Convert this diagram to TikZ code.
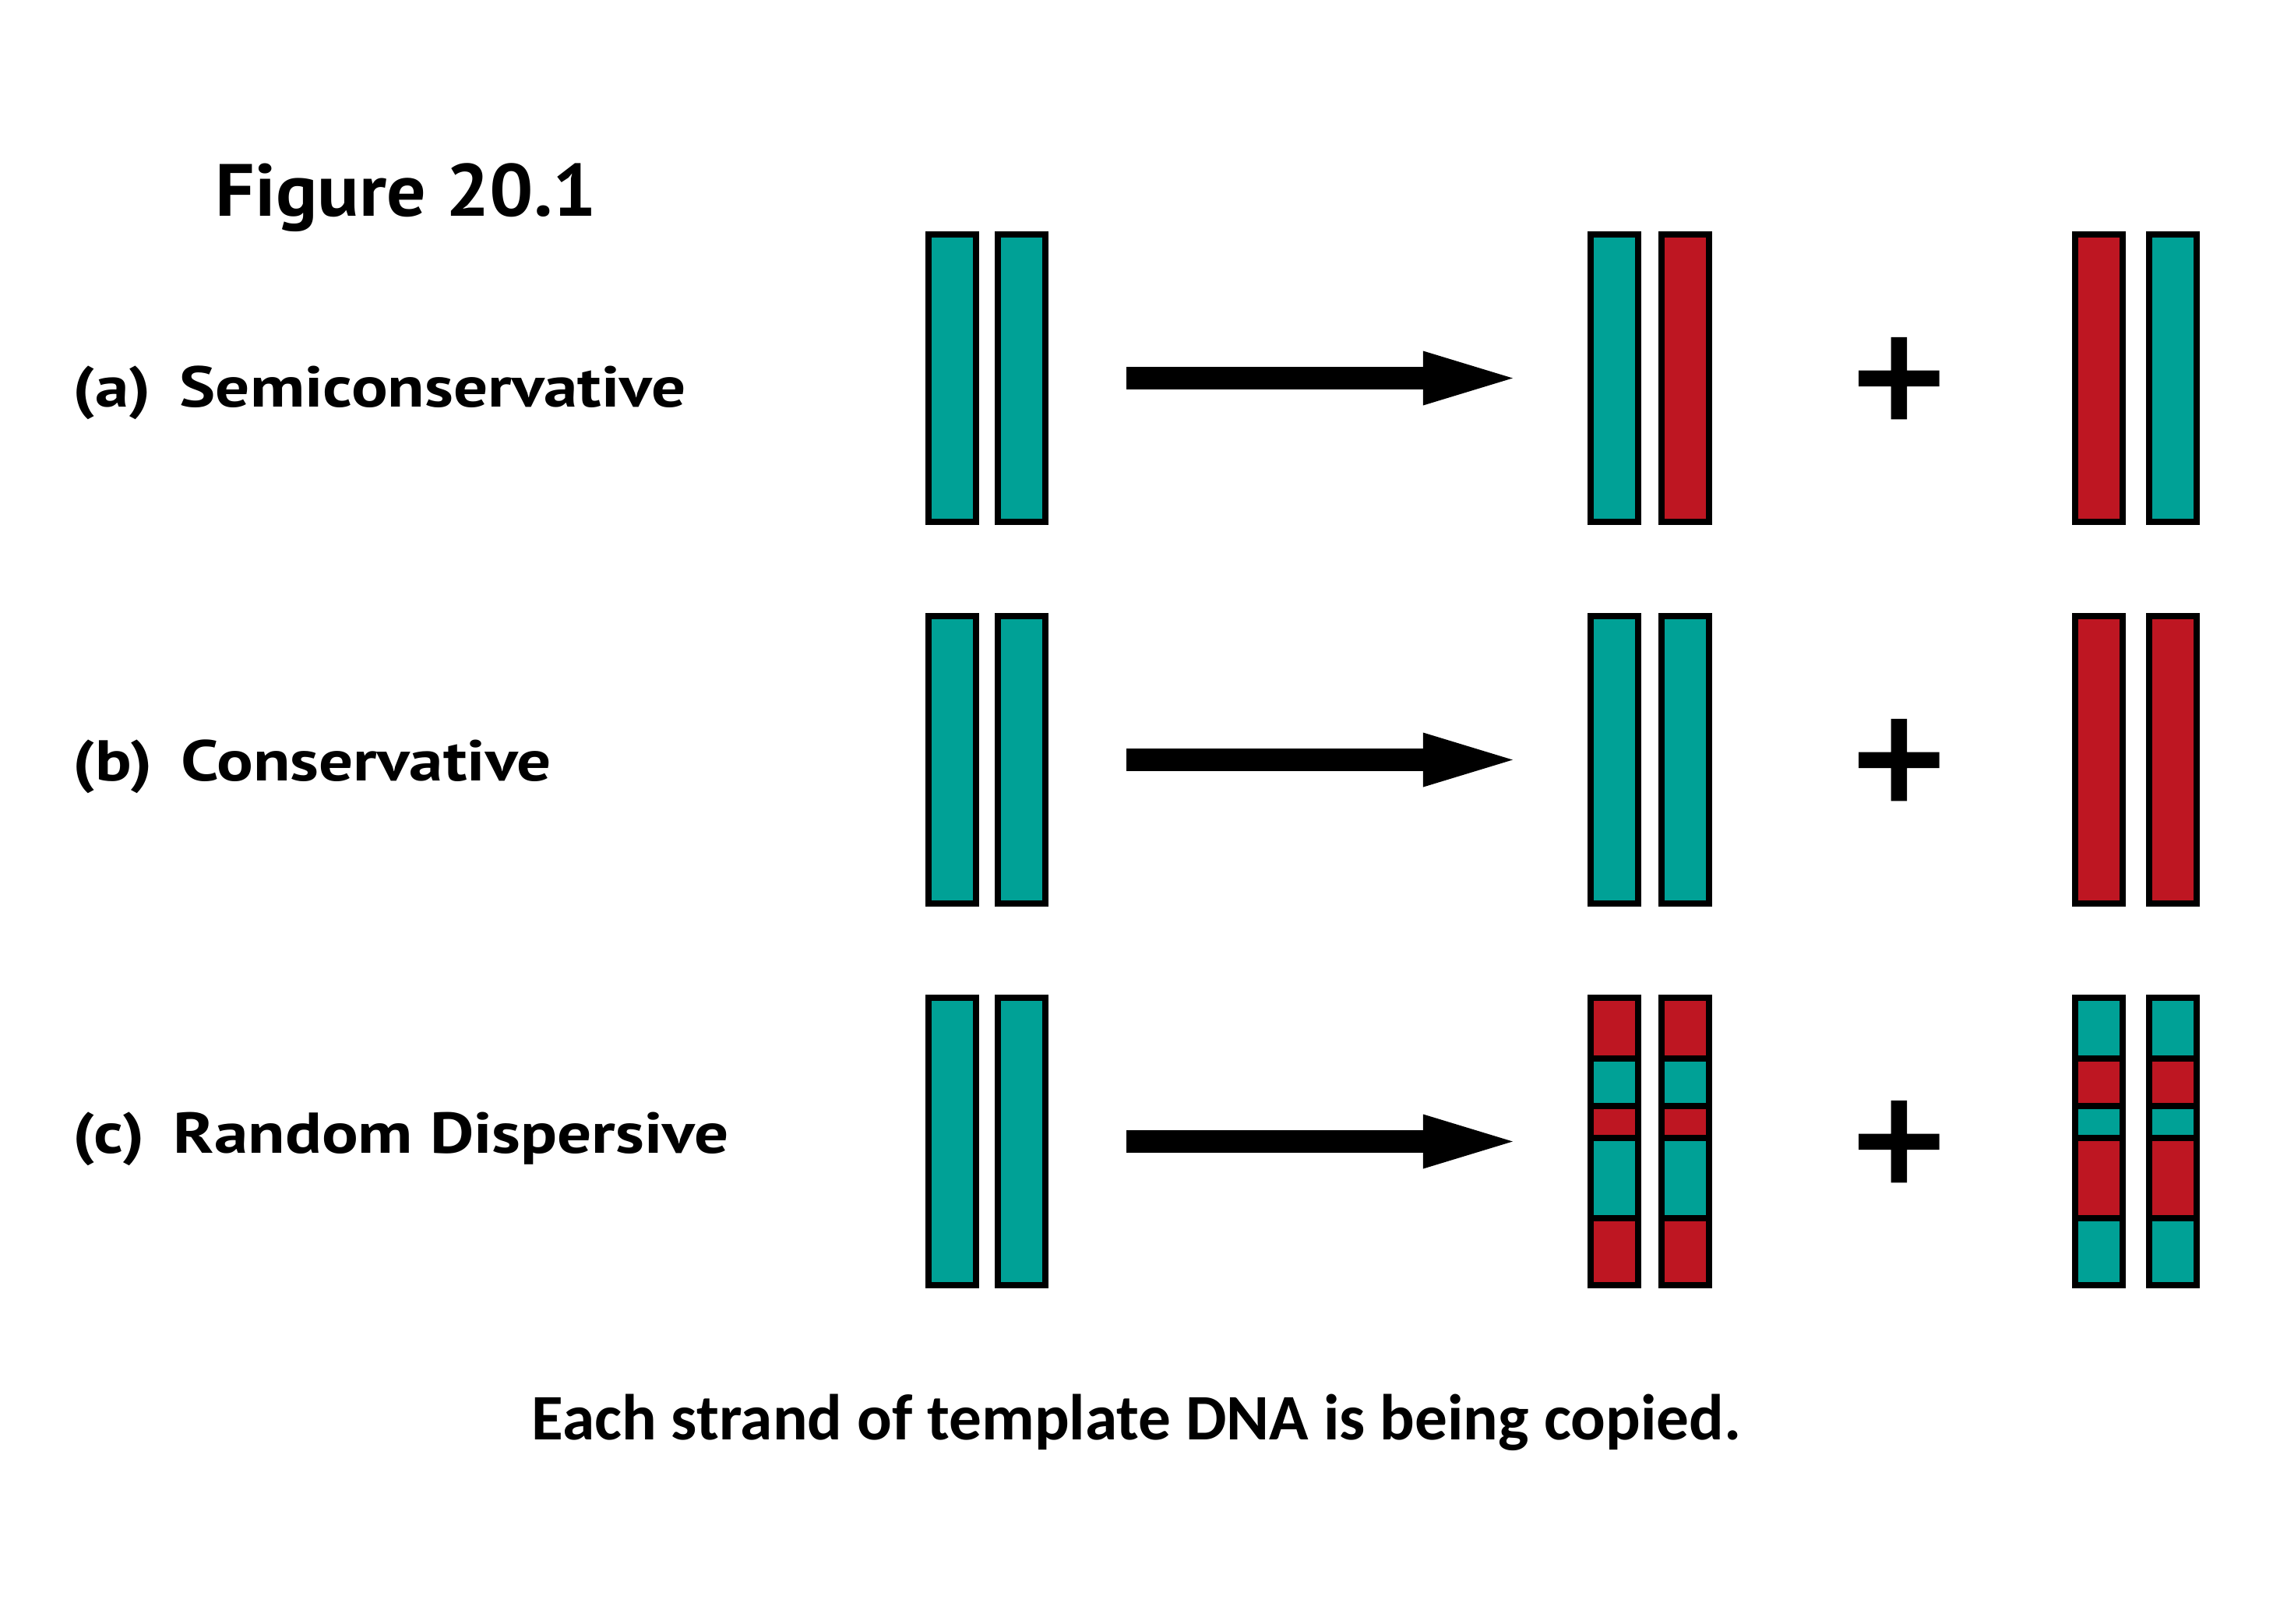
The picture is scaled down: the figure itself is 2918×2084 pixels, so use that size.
\documentclass[tikz,border=0pt]{standalone}
\usepackage{fontspec}
\setmainfont{PT Sans}
\newfontfamily\labelfont{PT Sans}[FakeStretch=1.18]
\newfontfamily\titlefont{PT Sans}[FakeStretch=1.05]
\newfontfamily\notefont{Carlito}
\newfontfamily\plusfont{PT Sans}[FakeBold=1.5]
\usepackage{xcolor}
\usepackage{tikz}
\usetikzlibrary{arrows.meta,positioning,calc}
\definecolor{dnateal}{RGB}{0,161,150}
\definecolor{dnared}{RGB}{190,22,34}
\tikzset{
  strand/.style={draw=black, line width=0.08cm, minimum width=0.61cm, minimum height=3.69cm, inner sep=0pt, outer sep=0pt},
  old/.style={strand, fill=dnateal},
  new/.style={strand, fill=dnared},
  divider/.style={draw=black, line width=0.08cm},
  bigarrow/.style={line width=0.29cm, -{Triangle[length=1.15cm, width=0.7cm, line width=0pt]}, shorten <=1.04cm, shorten >=1.0cm},
  title/.style={anchor=base west, inner sep=0pt, font=\titlefont\bfseries\fontsize{27pt}{32pt}\selectfont},
  label/.style={anchor=base west, inner sep=0pt, font=\labelfont\bfseries\fontsize{21pt}{25pt}\selectfont},
  caption/.style={anchor=base, inner sep=0pt, font=\notefont\bfseries\fontsize{23.7pt}{28pt}\selectfont},
  plus/.style={inner sep=0pt, font=\plusfont\fontsize{67pt}{67pt}\selectfont}
}
% mixed strand: base colour, then the two middle patches in the other colour
\newcommand{\mixstrand}[5]{%
  \node[strand, fill=#4] (#1) at (#2,#3) {};
  \fill[#5] ($(#1.north west)+(0,78)$) rectangle ($(#1.north east)+(0,139)$);
  \fill[#5] ($(#1.north west)+(0,180)$) rectangle ($(#1.north east)+(0,283)$);
  \foreach \d in {78,139,180,283}
    \draw[divider] ($(#1.north west)+(0,\d)$) -- ($(#1.north east)+(0,\d)$);
  \draw[divider] (#1.north west) rectangle (#1.south east);
}

\begin{document}
\begin{tikzpicture}[x=0.01cm, y=-0.01cm]
  \fill[white] (0,0) rectangle (2918,2084);
  \useasboundingbox (0,0) rectangle (2918,2084);

  \node[title] (fig) at (276,277) {Figure 20.1};

  % (a) semiconservative
  \node[label] (labA) at (93,522) {(a)\hspace{0.5em}Semiconservative};
  \node[old] (a11) at (1222.5,485.5) {};
  \node[old] (a12) at (1311.5,485.5) {};
  \node[old] (a21) at (2072.5,485.5) {};
  \node[new] (a22) at (2163.5,485.5) {};
  \node[new] (a31) at (2694.5,485.5) {};
  \node[old] (a32) at (2789.5,485.5) {};
  \node[plus] (plusA) at (2438,500) {+};
  \draw[bigarrow] (a12.east) -- (a21.west);

  % (b) conservative
  \node[label] (labB) at (93,1002) {(b)\hspace{0.5em}Conservative};
  \node[old] (b11) at (1222.5,975.5) {};
  \node[old] (b12) at (1311.5,975.5) {};
  \node[old] (b21) at (2072.5,975.5) {};
  \node[old] (b22) at (2163.5,975.5) {};
  \node[new] (b31) at (2694.5,975.5) {};
  \node[new] (b32) at (2789.5,975.5) {};
  \node[plus] (plusB) at (2438,990) {+};
  \draw[bigarrow] (b12.east) -- (b21.west);

  % (c) random dispersive
  \node[label] (labC) at (93,1480) {(c)\hspace{0.5em}Random Dispersive};
  \node[old] (c11) at (1222.5,1465.5) {};
  \node[old] (c12) at (1311.5,1465.5) {};
  \mixstrand{c21}{2072.5}{1465.5}{dnared}{dnateal}
  \mixstrand{c22}{2163.5}{1465.5}{dnared}{dnateal}
  \mixstrand{c31}{2694.5}{1465.5}{dnateal}{dnared}
  \mixstrand{c32}{2789.5}{1465.5}{dnateal}{dnared}
  \node[plus] (plusC) at (2438,1480) {+};
  \draw[bigarrow] (c12.east) -- (c21.west);

  \node[caption] (note) at (1459,1848) {Each strand of template DNA is being copied.};
\end{tikzpicture}
\end{document}
